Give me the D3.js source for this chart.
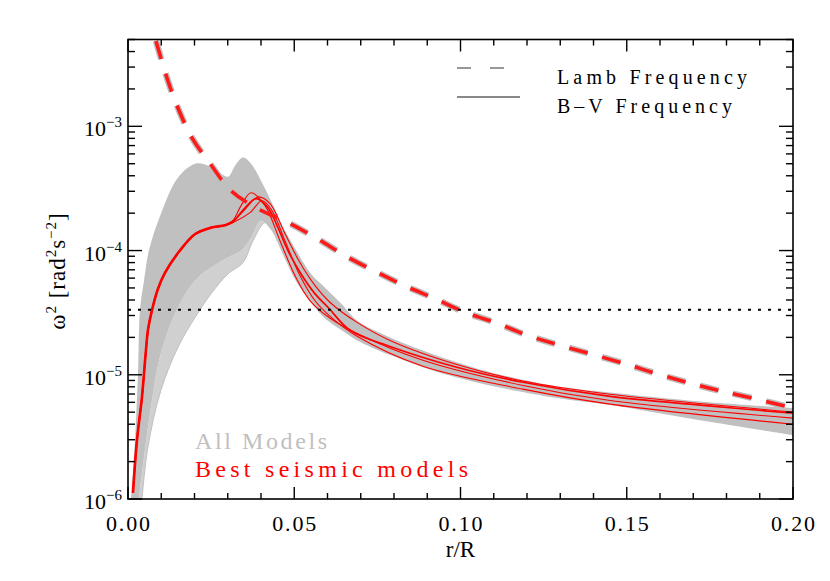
<!DOCTYPE html>
<html>
<head>
<meta charset="utf-8">
<script src="https://cdn.jsdelivr.net/npm/d3@7"></script>
<style>
  body { margin: 0; background: #fff; }
  svg { display: block; }
</style>
</head>
<body>
<svg id="chart" width="830" height="581" font-family="'Liberation Serif', 'Times New Roman', serif"></svg>
<script>
// ---- data: [r/R, omega^2] ----
const lambFreq = [[0.0084,4.87e-3],[0.0117,2.46e-3],[0.0150,1.41e-3],[0.0192,8.1e-4],[0.0247,5.0e-4],
  [0.0310,3.03e-4],[0.0391,2.17e-4],[0.0481,1.68e-4],[0.0568,1.25e-4],[0.0653,9.1e-5],[0.0743,6.8e-5],
  [0.0833,5.2e-5],[0.0923,4.1e-5],[0.1014,3.18e-5],[0.1110,2.6e-5],[0.1203,2.07e-5],[0.1489,1.24e-5],
  [0.1585,1.03e-5],[0.1681,8.7e-6],[0.1774,7.5e-6],[0.1877,6.5e-6],[0.2000,5.4e-6]];

// envelope of all B-V models (grey band)
const grayUpper = [[0.0009,1.0e-6],[0.0021,2.98e-6],[0.0030,1.03e-5],[0.0036,3.3e-5],[0.0048,5.7e-5],
  [0.0063,1.0e-4],[0.0099,1.98e-4],[0.0150,3.86e-4],[0.0202,5.0e-4],[0.0241,4.82e-4],[0.0280,4.15e-4],
  [0.0301,3.93e-4],[0.0322,4.82e-4],[0.0346,5.6e-4],[0.0370,5.0e-4],[0.0400,3.65e-4],[0.0430,2.52e-4],
  [0.0472,1.45e-4],[0.0511,9.5e-5],[0.0550,6.5e-5],[0.0592,5.05e-5],[0.0641,3.75e-5],[0.0689,2.74e-5],
  [0.0788,2.0e-5],[0.0887,1.57e-5],[0.0989,1.26e-5],[0.1089,1.05e-5],[0.1290,8.1e-6],[0.1450,7.2e-6],
  [0.1720,6.1e-6],[0.2000,5.4e-6]];
const grayMid = [[0.0033,1.0e-6],[0.0069,5.5e-6],[0.0099,1.49e-5],[0.0150,3.48e-5],[0.0202,5.74e-5],
  [0.0250,7.3e-5],[0.0301,8.8e-5],[0.0340,1.0e-4],[0.0370,1.27e-4],[0.0400,1.74e-4],[0.0430,1.48e-4],
  [0.0472,8.6e-5],[0.0508,5.5e-5],[0.0547,3.96e-5],[0.0586,2.95e-5],[0.0638,2.32e-5],[0.0689,1.89e-5],
  [0.0788,1.44e-5],[0.0887,1.15e-5],[0.0989,9.5e-6],[0.1089,8.2e-6],[0.1290,6.5e-6],[0.1450,5.7e-6],
  [0.1720,4.3e-6],[0.2000,3.27e-6]];
const grayLower = [[0.0042,1.0e-6],[0.0060,2.62e-6],[0.0099,7.5e-6],[0.0150,1.66e-5],[0.0202,2.9e-5],
  [0.0250,4.5e-5],[0.0301,6.5e-5],[0.0346,8.0e-5],[0.0376,1.2e-4],[0.0412,1.68e-4],[0.0430,1.48e-4]];

// best seismic models: common rise, then individual tails
const redRise = [[0.0015,1.12e-6],[0.0027,2.98e-6],[0.0042,6.6e-6],[0.0054,1.58e-5],[0.0060,2.29e-5],
  [0.0072,3.3e-5],[0.0090,4.9e-5],[0.0111,6.6e-5],[0.0156,1.0e-4],[0.0202,1.36e-4],[0.0250,1.53e-4],
  [0.0292,1.6e-4]];
const redTailA = [[0.0316,1.71e-4],[0.0352,2.21e-4],[0.0385,2.62e-4],[0.0421,2.21e-4],[0.0451,1.53e-4],
  [0.0481,1.0e-4],[0.0520,6.5e-5],[0.0562,4.5e-5],[0.0602,3.48e-5],[0.0668,2.28e-5],[0.0788,1.69e-5],
  [0.0989,1.15e-5],[0.1188,8.7e-6],[0.1450,6.7e-6],[0.1720,5.7e-6],[0.2000,4.9e-6]];
const redTailB = [[0.0316,1.75e-4],[0.0340,2.3e-4],[0.0370,2.92e-4],[0.0412,2.3e-4],[0.0457,1.2e-4],
  [0.0502,6.3e-5],[0.0547,3.96e-5],[0.0608,2.85e-5],[0.0689,2.15e-5],[0.0887,1.31e-5],[0.1188,8.2e-6],
  [0.1450,6.2e-6],[0.2000,4.48e-6]];
const redTailC = [[0.0316,1.68e-4],[0.0367,2.02e-4],[0.0403,2.52e-4],[0.0433,2.1e-4],[0.0472,1.2e-4],
  [0.0517,6.3e-5],[0.0562,3.96e-5],[0.0608,2.95e-5],[0.0689,2.04e-5],[0.0887,1.17e-5],[0.1188,7.66e-6],
  [0.1450,5.8e-6],[0.2000,4.0e-6]];
const redTailD = [[0.0316,1.72e-4],[0.0352,2.15e-4],[0.0391,2.7e-4],[0.0427,2.39e-4],[0.0472,1.37e-4],
  [0.0517,8.0e-5],[0.0562,5.24e-5],[0.0608,3.82e-5],[0.0689,2.64e-5],[0.0788,1.89e-5],[0.0989,1.21e-5],
  [0.1188,8.9e-6],[0.1450,6.97e-6],[0.2000,5.0e-6]];

const dottedLevel = 3.34e-5;

const xTickValues = [0, 0.05, 0.10, 0.15, 0.20];
const xTickLabels = ["0.00", "0.05", "0.10", "0.15", "0.20"];
const yTickValues = [1e-6, 1e-5, 1e-4, 1e-3];
const yTickExps = ["\u22126", "\u22125", "\u22124", "\u22123"];

// ---- layout ----
const L = 128, R = 793, T = 39.5, B = 499;
const svg = d3.select("#chart");

const x = d3.scaleLinear().domain([0, 0.2]).range([L, R]);
const y = d3.scaleLog().domain([1e-6, 5e-3]).range([B, T]);

svg.append("defs").append("clipPath").attr("id", "plot-clip")
  .append("rect").attr("x", L).attr("y", T).attr("width", R - L).attr("height", B - T);

const line = d3.line().x(d => x(d[0])).y(d => y(d[1])).curve(d3.curveCatmullRom.alpha(0.5));
const band = (top, bottom) =>
  line(top) + line(bottom.slice().reverse()).replace(/^M/, "L") + "Z";

const g = svg.append("g").attr("clip-path", "url(#plot-clip)");

// grey band of all models
g.append("path").attr("d", band(grayMid, grayLower.slice(0, -1).concat(
    grayMid.filter(d => d[0] >= 0.043))))
  .attr("fill", "#d0d0d0");
g.append("path").attr("d", band(grayUpper, grayMid)).attr("fill", "#c0c0c0");
g.append("path").attr("d", line(grayLower)).attr("fill", "none")
  .attr("stroke", "#c0c0c0").attr("stroke-width", 1);

// Lamb frequency, grey models under red best models
g.append("path").attr("d", line(lambFreq)).attr("fill", "none")
  .attr("stroke", "#bdbdbd").attr("stroke-width", 6.5).attr("stroke-dasharray", "19,15");

// red B-V curves
[redTailB, redTailC, redTailD, redTailA].forEach((tail, i) => {
  g.append("path").attr("d", line(redRise.concat(tail))).attr("fill", "none")
    .attr("stroke", "#ff0000").attr("stroke-width", i === 3 ? 1.7 : 1.1);
});
g.append("path").attr("d", line(redRise.concat(redTailA.slice(0, 1)))).attr("fill", "none")
  .attr("stroke", "#ff0000").attr("stroke-width", 2.6);

g.append("path").attr("d", line(lambFreq)).attr("fill", "none")
  .attr("stroke", "#ff1a1a").attr("stroke-width", 3.6).attr("stroke-dasharray", "19,15");

// dotted threshold
g.append("line").attr("x1", L).attr("x2", R).attr("y1", y(dottedLevel)).attr("y2", y(dottedLevel))
  .attr("stroke", "#000").attr("stroke-width", 2).attr("stroke-dasharray", "3,7");

// ---- frame & ticks ----
svg.append("rect").attr("x", L).attr("y", T).attr("width", R - L).attr("height", B - T)
  .attr("fill", "none").attr("stroke", "#000").attr("stroke-width", 1.6);

const ax = svg.append("g").attr("stroke", "#000").attr("stroke-width", 1.4);
d3.range(0, 21).forEach(i => {
  const v = i / 100, len = i % 5 === 0 ? 12 : 6;
  ax.append("line").attr("x1", x(v)).attr("x2", x(v)).attr("y1", B).attr("y2", B - len);
  ax.append("line").attr("x1", x(v)).attr("x2", x(v)).attr("y1", T).attr("y2", T + len);
});
yTickValues.forEach(dec => {
  d3.range(1, 10).forEach(m => {
    const v = dec * m;
    if (v > 5e-3 || v < 1e-6) return;
    const len = m === 1 ? 14 : 7;
    ax.append("line").attr("x1", L).attr("x2", L + len).attr("y1", y(v)).attr("y2", y(v));
    ax.append("line").attr("x1", R).attr("x2", R - len).attr("y1", y(v)).attr("y2", y(v));
  });
});

// tick labels
xTickValues.forEach((v, i) => {
  svg.append("text").attr("x", x(v) - 22).attr("y", 531)
    .attr("font-size", 22).attr("fill", "#000")
    .attr("textLength", 44).attr("lengthAdjust", "spacing").text(xTickLabels[i]);
});
yTickValues.forEach((v, i) => {
  const t = svg.append("text").attr("x", 122).attr("y", y(v) + 10).attr("text-anchor", "end")
    .attr("font-size", 22).attr("fill", "#000");
  t.append("tspan").text("10");
  t.append("tspan").attr("dy", -9).attr("font-size", 15).text(yTickExps[i]);
});

// axis titles
svg.append("text").attr("x", x(0.1)).attr("y", 557).attr("text-anchor", "middle")
  .attr("font-size", 23).text("r/R");
const yt = svg.append("text").attr("transform", "translate(65,271) rotate(-90)")
  .attr("text-anchor", "middle").attr("font-size", 23).attr("letter-spacing", 1);
yt.append("tspan").text("\u03c9");
yt.append("tspan").attr("dy", -9).attr("font-size", 15).text("2");
yt.append("tspan").attr("dy", 9).text(" [rad");
yt.append("tspan").attr("dy", -9).attr("font-size", 15).text("2");
yt.append("tspan").attr("dy", 9).text("s");
yt.append("tspan").attr("dy", -9).attr("font-size", 15).text("\u22122");
yt.append("tspan").attr("dy", 9).text("]");

// legend (top right)
svg.append("line").attr("x1", 457).attr("x2", 520).attr("y1", 68).attr("y2", 68)
  .attr("stroke", "#333").attr("stroke-width", 1.2).attr("stroke-dasharray", "14,19");
svg.append("line").attr("x1", 457).attr("x2", 520).attr("y1", 97).attr("y2", 97)
  .attr("stroke", "#888").attr("stroke-width", 2);
svg.append("text").attr("x", 557).attr("y", 84).attr("font-size", 20)
  .attr("textLength", 190).attr("lengthAdjust", "spacing").text("Lamb Frequency");
svg.append("text").attr("x", 557).attr("y", 113).attr("font-size", 20)
  .attr("textLength", 175).attr("lengthAdjust", "spacing").text("B\u2013V Frequency");

// legend (bottom left)
svg.append("text").attr("x", 195).attr("y", 449).attr("font-size", 24).attr("fill", "#c0c0c0")
  .attr("textLength", 132).attr("lengthAdjust", "spacing").text("All Models");
svg.append("text").attr("x", 195).attr("y", 477).attr("font-size", 24).attr("fill", "#ff0000")
  .attr("textLength", 273).attr("lengthAdjust", "spacing").text("Best seismic models");
</script>
</body>
</html>
